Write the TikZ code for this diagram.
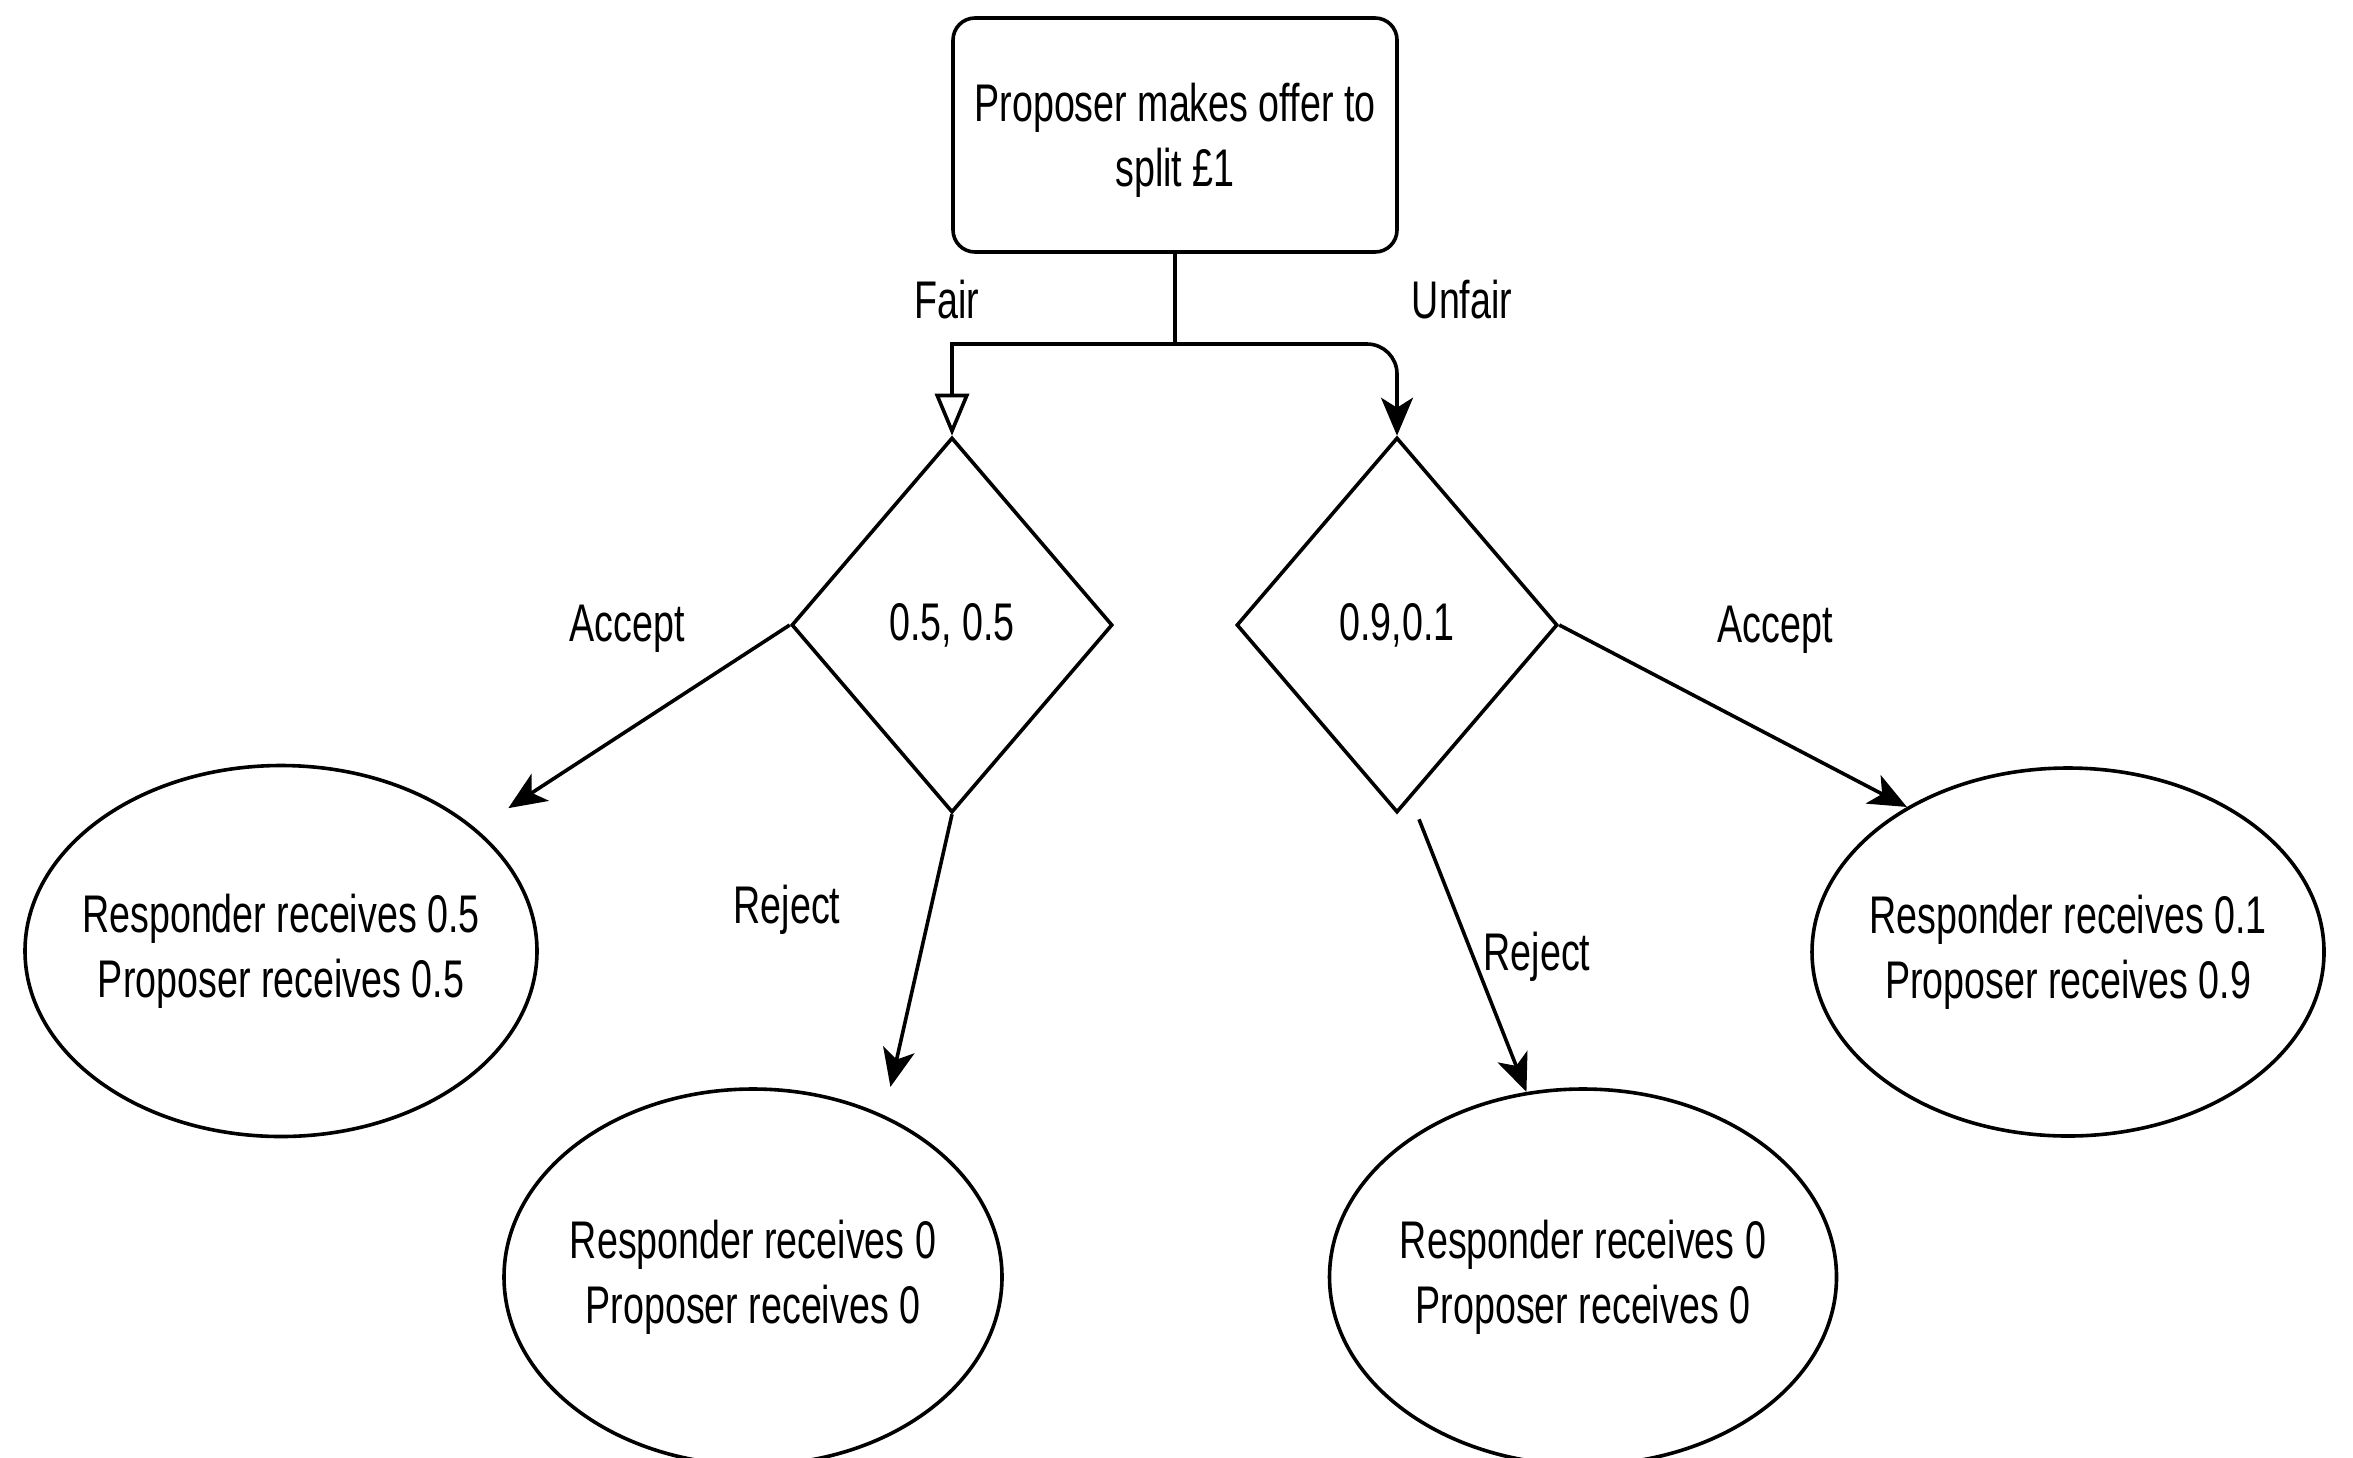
\documentclass[tikz,border=0pt]{standalone}
\usepackage{fontspec}
\setmainfont{Liberation Sans}[FakeStretch=0.71]
\usetikzlibrary{
  positioning,
  arrows.meta,
  shapes.geometric
}
\tikzset{
  offerbox/.style={
    draw, line width=1.8pt,
    rounded corners=11pt,
    minimum width=222pt,
    minimum height=117pt,
    text depth=0pt,
    font=\fontsize{26.5}{32.5}\selectfont,
    align=center
  },
  choice/.style={
    draw, diamond, line width=1.8pt,
    minimum width=160.5pt,
    minimum height=187.5pt,
    inner sep=0pt,
    font=\fontsize{26.5}{32.5}\selectfont
  },
  payoff/.style={
    draw, ellipse, line width=1.8pt,
    inner xsep=-20pt, inner ysep=0pt,
    font=\fontsize{26.5}{32.5}\selectfont,
    align=center
  },
  branch/.style={-{Stealth[length=19pt, width=16pt, inset=5pt]}, line width=1.8pt},
  openbranch/.style={-{Triangle[open, length=21pt, width=17pt]}, line width=1.8pt},
  edgelabel/.style={font=\fontsize{26.5}{32.5}\selectfont}
}

\begin{document}
\begin{tikzpicture}[x=0.5pt, y=-0.5pt]
\useasboundingbox (0,0) rectangle (2353,1457);

% offer (top)
\node[offerbox] (offer) at (1175, 135) {Proposer makes offer to\\split \pounds 1};
\coordinate (split) at (1175, 344);

% decisions
\node[choice] (fairdec) at (952, 625) {0.5, 0.5};
\node[choice] (unfairdec) at (1397, 625) {0.9,0.1};

\draw[openbranch] (offer.south) -- (split) -| (fairdec.north);
\draw[branch, rounded corners=15pt] (split) -| (unfairdec.north);
\node[edgelabel] (fairlbl) at (947, 300) {Fair};
\node[edgelabel] (unfairlbl) at (1462, 300) {Unfair};

% payoffs
\node[payoff, minimum width=256pt, minimum height=185.5pt] (payL) at (281, 951)
  {Responder receives 0.5\\Proposer receives 0.5};
\node[payoff, minimum width=249pt, minimum height=188pt] (payBL) at (753, 1277)
  {Responder receives 0\\Proposer receives 0};
\node[payoff, minimum width=253.5pt, minimum height=188pt] (payBR) at (1583, 1277)
  {Responder receives 0\\Proposer receives 0};
\node[payoff, minimum width=256pt, minimum height=184pt] (payR) at (2068, 952)
  {Responder receives 0.1\\Proposer receives 0.9};

% responses
\draw[branch, shorten >=19pt] (fairdec.west) -- (payL.32);
\draw[branch, shorten >=14.5pt] (fairdec.south) -- (payBL.51);
\draw[branch] (unfairdec.east) -- (payR.138);
\draw[branch] ([xshift=11pt, yshift=-2.5pt]unfairdec.south) -- (payBR.107);

\node[edgelabel] (acceptL) at (627, 629) {Accept};
\node[edgelabel] (rejectL) at (787, 910) {Reject};
\node[edgelabel] (acceptR) at (1775, 630) {Accept};
\node[edgelabel] (rejectR) at (1537, 957) {Reject};

\end{tikzpicture}
\end{document}
